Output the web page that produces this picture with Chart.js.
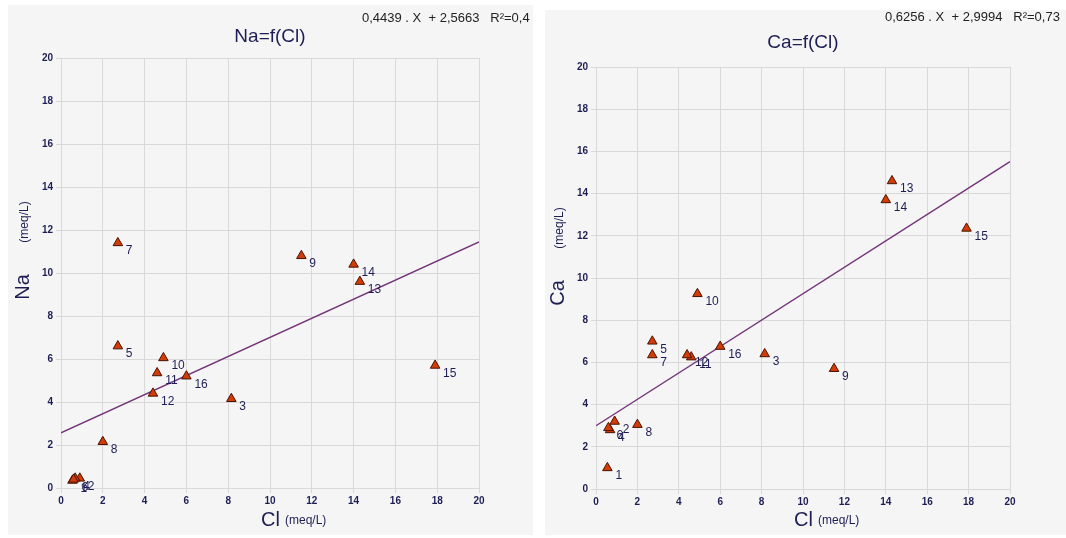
<!DOCTYPE html>
<html>
<head>
<meta charset="utf-8">
<script src="https://cdn.jsdelivr.net/npm/chart.js@4.4.1/dist/chart.umd.min.js"></script>
<style>
  html, body { margin: 0; padding: 0; background: #ffffff; }
  body { width: 1066px; height: 538px; position: relative; overflow: hidden; }
  .panel { position: absolute; background: #f5f5f5; }
  #naPanel { left: 8px; top: 5px; width: 525px; height: 530px; }
  #caPanel { left: 545px; top: 10px; width: 521px; height: 525px; }
</style>
</head>
<body>
<div class="panel" id="naPanel"><canvas id="naChart"></canvas></div>
<div class="panel" id="caPanel"><canvas id="caChart"></canvas></div>
<script>
// Sample data (meq/L)
const sampleIds = ['1', '2', '3', '4', '5', '6', '7', '8', '9', '10', '11', '12', '13', '14', '15', '16'];
const clValues = [0.55, 0.9, 8.15, 0.68, 2.72, 0.6, 2.72, 2.0, 11.5, 4.9, 4.6, 4.4, 14.3, 14.0, 17.9, 6.0];
const naValues = [0.35, 0.45, 4.15, 0.45, 6.6, 0.4, 11.4, 2.15, 10.8, 6.05, 5.35, 4.4, 9.6, 10.4, 5.7, 5.2];
const caValues = [1.0, 3.2, 6.4, 2.8, 7.0, 2.9, 6.35, 3.05, 5.7, 9.25, 6.25, 6.35, 14.6, 13.7, 12.35, 6.75];
const axisTicks = [0, 2, 4, 6, 8, 10, 12, 14, 16, 18, 20];

// Regression coefficients shown on the charts
const naSlope = 0.4439, naIntercept = 2.5663;
const caSlope = 0.6256, caIntercept = 2.9994;

const inkColor = '#1e1e55';
const fontFamily = '"Liberation Sans", Arial, sans-serif';

function drawText(ctx, text, x, y, size, align, rotate) {
    ctx.save();
    ctx.translate(x, y);
    if (rotate) ctx.rotate(-Math.PI / 2);
    ctx.font = size + 'px ' + fontFamily;
    ctx.fillStyle = inkColor;
    ctx.textAlign = align;
    ctx.textBaseline = 'middle';
    ctx.fillText(text, 0, 0);
    ctx.restore();
}

function makeChart(canvasId, yValues, slope, intercept, cfg) {
    const points = clValues.map((cl, i) => ({ x: cl, y: yValues[i] }));

    // numbers next to each triangle + titles and equation
    const textPlugin = {
        id: 'texts',
        afterDatasetsDraw(chart) {
            const ctx = chart.ctx;
            const meta = chart.getDatasetMeta(1);
            meta.data.forEach((pt, i) => {
                drawText(ctx, sampleIds[i], pt.x + 8, pt.y + 8, 12, 'left', false);
            });
        },
        afterDraw(chart) {
            const ctx = chart.ctx;
            drawText(ctx, cfg.title, cfg.titleX, cfg.titleY, 19, 'center', false);
            ctx.save();
            ctx.font = '13px ' + fontFamily;
            ctx.fillStyle = '#222222';
            ctx.textBaseline = 'middle';
            ctx.fillText(cfg.equation, cfg.eqX, cfg.eqY);
            ctx.restore();
            // y axis title
            drawText(ctx, cfg.yName, cfg.yTitleX, cfg.yTitleY, 20, 'center', true);
            drawText(ctx, '(meq/L)', cfg.yTitleX + 2, cfg.yUnitY, 12, 'center', true);
            // x axis title
            drawText(ctx, 'Cl', cfg.xTitleX, cfg.xTitleY, 20, 'left', false);
            drawText(ctx, '(meq/L)', cfg.xTitleX + 24, cfg.xTitleY + 1, 12, 'left', false);
        }
    };

    return new Chart(document.getElementById(canvasId), {
        type: 'scatter',
        data: {
            datasets: [{
                type: 'line',
                data: [
                    { x: axisTicks[0], y: intercept + slope * axisTicks[0] },
                    { x: axisTicks[axisTicks.length - 1], y: intercept + slope * axisTicks[axisTicks.length - 1] }
                ],
                borderColor: '#74347a',
                borderWidth: 1.4,
                pointRadius: 0,
                fill: false,
                order: 2
            }, {
                data: points,
                pointStyle: 'triangle',
                pointRadius: 5.5,
                backgroundColor: '#d23c06',
                borderColor: '#4a1200',
                borderWidth: 1,
                order: 1
            }]
        },
        options: {
            responsive: false,
            animation: false,
            events: [],
            layout: { padding: { left: 0, top: cfg.padTop, right: cfg.padRight, bottom: 0 } },
            plugins: { legend: { display: false }, title: { display: false }, tooltip: { enabled: false } },
            scales: {
                x: {
                    type: 'linear',
                    min: 0,
                    max: 20,
                    afterBuildTicks: axis => { axis.ticks = axisTicks.map(v => ({ value: v })); },
                    afterFit: axis => { axis.height = cfg.xHeight; },
                    grid: { color: '#d9d9d9', tickLength: 5, lineWidth: 1 },
                    border: { color: '#d9d9d9' },
                    ticks: { color: inkColor, padding: 2, font: { size: 10, weight: 'bold', family: fontFamily } }
                },
                y: {
                    type: 'linear',
                    min: 0,
                    max: 20,
                    afterBuildTicks: axis => { axis.ticks = axisTicks.map(v => ({ value: v })); },
                    afterFit: axis => { axis.width = cfg.yWidth; },
                    grid: { color: '#d9d9d9', tickLength: 5, lineWidth: 1 },
                    border: { color: '#d9d9d9' },
                    ticks: { color: inkColor, padding: 3, font: { size: 10, weight: 'bold', family: fontFamily } }
                }
            }
        },
        plugins: [textPlugin]
    });
}

function sizeCanvas(id, w, h) {
    const c = document.getElementById(id);
    c.width = w;
    c.height = h;
    c.style.width = w + 'px';
    c.style.height = h + 'px';
}

sizeCanvas('naChart', 525, 530);
sizeCanvas('caChart', 521, 525);

makeChart('naChart', naValues, naSlope, naIntercept, {
    title: 'Na=f(Cl)', titleX: 262, titleY: 32,
    equation: '0,4439 . X  + 2,5663   R²=0,4', eqX: 354, eqY: 13,
    yName: 'Na', yTitleX: 15, yTitleY: 282, yUnitY: 217,
    xTitleX: 253, xTitleY: 515,
    padTop: 53, padRight: 54, xHeight: 47, yWidth: 53
});

makeChart('caChart', caValues, caSlope, caIntercept, {
    title: 'Ca=f(Cl)', titleX: 258, titleY: 33,
    equation: '0,6256 . X  + 2,9994   R²=0,73', eqX: 340, eqY: 7,
    yName: 'Ca', yTitleX: 13, yTitleY: 283, yUnitY: 218,
    xTitleX: 249, xTitleY: 510,
    padTop: 57, padRight: 56, xHeight: 46, yWidth: 51
});
</script>
</body>
</html>
